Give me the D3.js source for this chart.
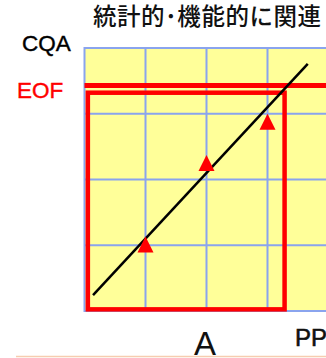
<!DOCTYPE html>
<html>
<head>
<meta charset="utf-8">
<script src="https://cdn.jsdelivr.net/npm/d3@7"></script>
<style>
html,body{margin:0;padding:0;background:#fff;overflow:hidden;}
svg{display:block;}
</style>
</head>
<body>
<svg id="c" width="326" height="358"></svg>
<script>
// ---- data ----
const title = "統計的･機能的に関連";
const yLabel = "CQA";
const eofLabel = "EOF";
const xLabel = "A";
const xAxisName = "PP";
const gridX = [1, 2, 3];
const gridY = [1, 2, 3];
const pointsX = [1, 2, 3];
const pointsY = [1.01, 2.25, 2.88];
const lineX = [0.14, 3.66];
const lineY = [0.24, 3.76];
const eofValue = 3.43;
const boxX = [0.055, 3.28];
const boxY = [0.025, 3.32];

const svg = d3.select("#c");
const x = d3.scaleLinear().domain([0, 4]).range([84.5, 328.5]);
const y = d3.scaleLinear().domain([0, 4]).range([311, 48]);

// plot background
svg.append("rect")
  .attr("x", x(0)).attr("y", y(4))
  .attr("width", x(4) - x(0)).attr("height", y(0) - y(4))
  .attr("fill", "#ffff99")
  .attr("stroke", "#8aa4ee").attr("stroke-width", 2);

// grid
svg.append("g").selectAll("line").data(gridX).join("line")
  .attr("x1", d => x(d)).attr("x2", d => x(d))
  .attr("y1", y(0)).attr("y2", y(4))
  .attr("stroke", "#8aa4ee").attr("stroke-width", 2);
svg.append("g").selectAll("line").data(gridY).join("line")
  .attr("x1", x(0)).attr("x2", x(4))
  .attr("y1", d => y(d)).attr("y2", d => y(d))
  .attr("stroke", "#8aa4ee").attr("stroke-width", 2);

// EOF line
svg.append("line")
  .attr("x1", x(0)).attr("x2", x(4))
  .attr("y1", y(eofValue)).attr("y2", y(eofValue))
  .attr("stroke", "#ff0000").attr("stroke-width", 5);

// red box
svg.append("rect")
  .attr("x", x(boxX[0])).attr("y", y(boxY[1]))
  .attr("width", x(boxX[1]) - x(boxX[0]))
  .attr("height", y(boxY[0]) - y(boxY[1]))
  .attr("fill", "none")
  .attr("stroke", "#ff0000").attr("stroke-width", 4.5);

// regression line
svg.append("line")
  .attr("x1", x(lineX[0])).attr("y1", y(lineY[0]))
  .attr("x2", x(lineX[1])).attr("y2", y(lineY[1]))
  .attr("stroke", "#000").attr("stroke-width", 2.5);

// triangles
const tri = (cx, cy) => {
  const w = 16, h = 16;
  return `M${cx},${cy - h/2}L${cx + w/2},${cy + h/2}L${cx - w/2},${cy + h/2}Z`;
};
svg.append("g").selectAll("path").data(pointsX.map((d, i) => [d, pointsY[i]])).join("path")
  .attr("d", d => tri(x(d[0]), y(d[1])))
  .attr("fill", "#ff0000");

// bottom peach line
svg.append("line")
  .attr("x1", 16).attr("x2", 326).attr("y1", 356.5).attr("y2", 356.5)
  .attr("stroke", "#f6cdb0").attr("stroke-width", 1.5);

// texts
svg.append("text").text(title)
  .attr("x", 93).attr("y", 25)
  .attr("font-family", "'Noto Sans CJK JP', sans-serif")
  .attr("font-size", 23.5).attr("font-weight", 500).attr("fill", "#111")
  .attr("textLength", 228).attr("lengthAdjust", "spacing");

svg.append("text").text(yLabel)
  .attr("x", 22).attr("y", 50.5)
  .attr("font-family", "'Liberation Sans', Arial, sans-serif")
  .attr("font-size", 22.5).attr("fill", "#000")
  .attr("stroke", "#000").attr("stroke-width", 0.4);

svg.append("text").text(eofLabel)
  .attr("x", 17).attr("y", 97.5)
  .attr("font-family", "'Liberation Sans', Arial, sans-serif")
  .attr("font-size", 22.5).attr("fill", "#ff0000")
  .attr("stroke", "#ff0000").attr("stroke-width", 0.4);

svg.append("text").text(xLabel)
  .attr("x", 194).attr("y", 354.5)
  .attr("font-family", "'Liberation Sans', Arial, sans-serif")
  .attr("font-size", 33).attr("fill", "#111");

svg.append("text").text(xAxisName)
  .attr("x", 295).attr("y", 346)
  .attr("font-family", "'Liberation Sans', Arial, sans-serif")
  .attr("font-size", 24).attr("fill", "#111")
  .attr("stroke", "#111").attr("stroke-width", 0.6);
</script>
</body>
</html>
